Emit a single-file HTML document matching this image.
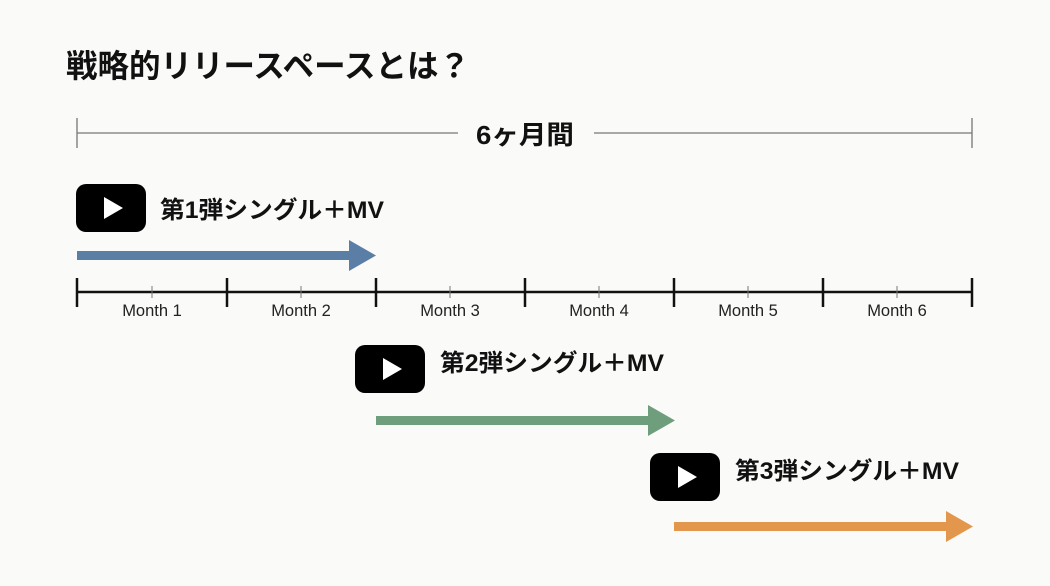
<!DOCTYPE html>
<html><head><meta charset="utf-8"><style>
html,body{margin:0;padding:0;background:#fafaf8;}
svg{display:block;}
text{font-family:"Liberation Sans","Noto Sans CJK JP",sans-serif;}
</style></head><body>
<svg width="1050" height="586" viewBox="0 0 1050 586" xmlns="http://www.w3.org/2000/svg">
<rect width="1050" height="586" fill="#fafaf8"/>
<text x="66" y="77" font-size="32" font-weight="bold" fill="#111" textLength="404" lengthAdjust="spacingAndGlyphs">戦略的リリースペースとは？</text>
<!-- 6 months span -->
<line x1="77" y1="133" x2="458" y2="133" stroke="#777" stroke-width="1.3"/>
<line x1="594" y1="133" x2="972" y2="133" stroke="#777" stroke-width="1.3"/>
<line x1="77" y1="118" x2="77" y2="148" stroke="#777" stroke-width="1.3"/>
<line x1="972" y1="118" x2="972" y2="148" stroke="#777" stroke-width="1.3"/>
<text x="476" y="144" font-size="26" font-weight="bold" fill="#111" textLength="98" lengthAdjust="spacingAndGlyphs">6ヶ月間</text>
<!-- single 1 -->
<rect x="76" y="184" width="70" height="48" rx="10" fill="#000"/>
<polygon points="104,197 104,219 123,208" fill="#fff"/>
<text x="160" y="218" font-size="24" font-weight="bold" fill="#111" textLength="224" lengthAdjust="spacingAndGlyphs">第1弾シングル＋MV</text>
<rect x="77" y="251" width="274" height="9" fill="#5a7ea6"/>
<polygon points="349,240 376,255.5 349,271" fill="#5a7ea6"/>
<!-- axis -->
<line x1="77" y1="292" x2="972" y2="292" stroke="#111" stroke-width="2.5"/>
<g stroke="#111" stroke-width="2.5">
<line x1="77" y1="278" x2="77" y2="307"/><line x1="227" y1="278" x2="227" y2="307"/>
<line x1="376" y1="278" x2="376" y2="307"/><line x1="525" y1="278" x2="525" y2="307"/>
<line x1="674" y1="278" x2="674" y2="307"/><line x1="823" y1="278" x2="823" y2="307"/>
<line x1="972" y1="278" x2="972" y2="307"/>
</g>
<g stroke="#777" stroke-width="1">
<line x1="152" y1="286" x2="152" y2="298"/><line x1="301" y1="286" x2="301" y2="298"/>
<line x1="450" y1="286" x2="450" y2="298"/><line x1="599" y1="286" x2="599" y2="298"/>
<line x1="748" y1="286" x2="748" y2="298"/><line x1="897" y1="286" x2="897" y2="298"/>
</g>
<g font-size="16.5" fill="#222" text-anchor="middle">
<text x="152" y="316">Month 1</text><text x="301" y="316">Month 2</text>
<text x="450" y="316">Month 3</text><text x="599" y="316">Month 4</text>
<text x="748" y="316">Month 5</text><text x="897" y="316">Month 6</text>
</g>
<!-- single 2 -->
<rect x="355" y="345" width="70" height="48" rx="10" fill="#000"/>
<polygon points="383,358 383,380 402,369" fill="#fff"/>
<text x="440" y="371" font-size="24" font-weight="bold" fill="#111" textLength="224" lengthAdjust="spacingAndGlyphs">第2弾シングル＋MV</text>
<rect x="376" y="416" width="274" height="9" fill="#6f9e7d"/>
<polygon points="648,405 675,420.5 648,436" fill="#6f9e7d"/>
<!-- single 3 -->
<rect x="650" y="453" width="70" height="48" rx="10" fill="#000"/>
<polygon points="678,466 678,488 697,477" fill="#fff"/>
<text x="735" y="479" font-size="24" font-weight="bold" fill="#111" textLength="224" lengthAdjust="spacingAndGlyphs">第3弾シングル＋MV</text>
<rect x="674" y="522" width="274" height="9" fill="#e3974c"/>
<polygon points="946,511 973,526.5 946,542" fill="#e3974c"/>
</svg>
</body></html>
